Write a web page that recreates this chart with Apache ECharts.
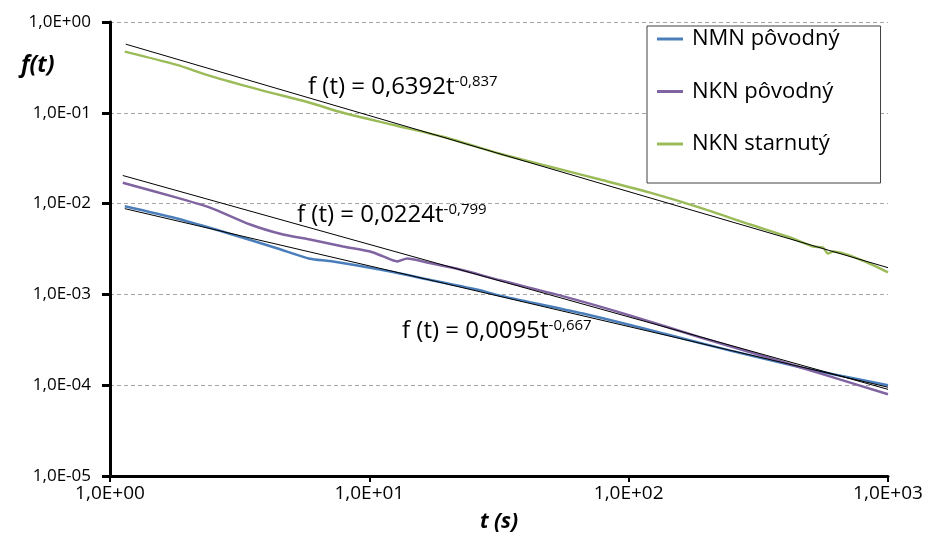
<!DOCTYPE html>
<html>
<head>
<meta charset="utf-8">
<script src="https://cdn.jsdelivr.net/npm/echarts@6/dist/echarts.min.js"></script>
<style>html,body{margin:0;padding:0;background:#fff}#c{width:928px;height:537px}</style>
</head>
<body>
<div id="c"></div>
<script>
// Tick labels
const xTickLabels = ['1,0E+00', '1,0E+01', '1,0E+02', '1,0E+03'];
const yTickLabels = ['1,0E-05', '1,0E-04', '1,0E-03', '1,0E-02', '1,0E-01', '1,0E+00'];
const seriesNames = ['NMN pôvodný', 'NKN pôvodný', 'NKN starnutý'];

// Measured curves [t (s), f(t)]
const nmnData = [[1.14,0.00934],[1.81,0.00684],[2.83,0.00475],[4.40,0.00322],[5.90,0.00247],[7.05,0.00233],[10.7,0.00190],[16.7,0.00147],[26.0,0.00113],[31.9,0.00097],[66.7,0.000615],[141,0.000362],[253,0.000236],[458,0.000158],[614,0.000132],[1000,0.0001]];
const nknData = [[1.12,0.0170],[1.81,0.01164],[2.43,0.00904],[3.47,0.00588],[4.65,0.00456],[5.90,0.00402],[7.92,0.00337],[10.07,0.00297],[11.3,0.00262],[12.8,0.00231],[14.0,0.00249],[16.7,0.00225],[22.4,0.00188],[31.9,0.00143],[57.9,0.000927],[104,0.000573],[188,0.000337],[342,0.000203],[614,0.000122],[1000,0.0000796]];
const nknAgedData = [[1.14,0.472],[1.81,0.337],[2.43,0.255],[3.79,0.179],[5.90,0.129],[7.92,0.100],[12.3,0.0738],[19.2,0.0545],[31.9,0.0354],[49.8,0.0255],[77.6,0.0184],[121,0.0132],[188,0.00904],[294,0.00588],[419,0.00423],[514,0.00337],[562,0.00328],[587,0.00282],[614,0.00297],[1000,0.00175]];

// Power-law trend lines (straight on log-log), end points
const nmnTrend = [[1.14,0.0088],[1000,0.000095]];
const nknTrend = [[1.12,0.0204],[1000,0.00009]];
const nknAgedTrend = [[1.15,0.57],[1000,0.00197]];

// Equation annotations
const eqMain = ['f (t) = 0,6392t', 'f (t) = 0,0224t', 'f (t) = 0,0095t'];
const eqExp = ['-0,837', '-0,799', '-0,667'];

const colors = ['#4A7EBB', '#8064A2', '#9BBB59'];
const FONT = 'Open Sans';

function expLabel(v, labels, minExp) {
  const e = Math.round(Math.log10(v));
  return labels[e - minExp] || '';
}

const chart = echarts.init(document.getElementById('c'), null, {renderer: 'canvas'});

function dataSeries(name, data, color) {
  return {name, type: 'line', data, showSymbol: false, symbol: 'none', smooth: 0.25,
    lineStyle: {color, width: 2.5}, itemStyle: {color}, z: 2};
}
function trendSeries(name, data) {
  return {name, type: 'line', data, showSymbol: false, symbol: 'none',
    lineStyle: {color: '#000', width: 1}, z: 3, silent: true};
}

const eqPos = [[308, 87], [297, 215], [402, 331]];

chart.setOption({
  animation: false,
  backgroundColor: '#fff',
  grid: {left: 110, right: 40, top: 22, bottom: 61, containLabel: false, outerBoundsMode: 'none'},
  xAxis: {
    type: 'log', logBase: 10, min: 1, max: 1000,
    name: 't (s)', nameLocation: 'middle', nameGap: 36,
    nameTextStyle: {fontFamily: FONT, fontSize: 21, fontWeight: 'bold', fontStyle: 'italic', color: '#000'},
    axisLine: {lineStyle: {color: '#000', width: 3}},
    axisTick: {show: true, length: 6, lineStyle: {color: '#000', width: 2}},
    minorTick: {show: false},
    splitLine: {show: false},
    axisLabel: {fontFamily: FONT, fontSize: 19, color: '#000', margin: 8,
      formatter: v => expLabel(v, xTickLabels, 0)}
  },
  yAxis: {
    type: 'log', logBase: 10, min: 1e-5, max: 1,
    axisLine: {show: true, lineStyle: {color: '#000', width: 3}},
    axisTick: {show: true, length: 8, lineStyle: {color: '#000', width: 3}},
    splitLine: {show: true, lineStyle: {color: '#a6a6a6', width: 1, type: [4, 3]}},
    axisLabel: {fontFamily: FONT, fontSize: 17, color: '#000', margin: 19,
      formatter: v => expLabel(v, yTickLabels, -5)}
  },
  legend: {
    data: seriesNames, orient: 'vertical', left: 647, top: 26,
    icon: 'rect', itemWidth: 26, itemHeight: 3, itemGap: 28.5,
    padding: [1, 41, 27, 10],
    borderColor: '#404040', borderWidth: 1, backgroundColor: '#fff',
    textStyle: {fontFamily: FONT, fontSize: 22, color: '#000', lineHeight: 24, padding: [0, 0, 0, 4]}
  },
  graphic: [
    {type: 'text', left: 21, top: 54, style: {text: 'f(t)', font: 'italic bold 23px "Open Sans"', fill: '#000'}}
  ].concat(eqMain.map((m, i) => ({
    type: 'text', x: eqPos[i][0], y: eqPos[i][1], z: 10,
    style: {
      text: '{a|' + m + '}{b|' + eqExp[i] + '}', verticalAlign: 'middle',
      rich: {
        a: {fontFamily: FONT, fontSize: 24, fill: '#000', lineHeight: 30, verticalAlign: 'middle'},
        b: {fontFamily: FONT, fontSize: 15, fill: '#000', lineHeight: 30, verticalAlign: 'top', padding: [2, 0, 0, 0]}
      }
    }
  }))),
  series: [
    dataSeries(seriesNames[0], nmnData, colors[0]),
    dataSeries(seriesNames[1], nknData, colors[1]),
    dataSeries(seriesNames[2], nknAgedData, colors[2]),
    trendSeries('trend NMN', nmnTrend),
    trendSeries('trend NKN', nknTrend),
    trendSeries('trend NKN starnutý', nknAgedTrend)
  ]
});
</script>
</body>
</html>
